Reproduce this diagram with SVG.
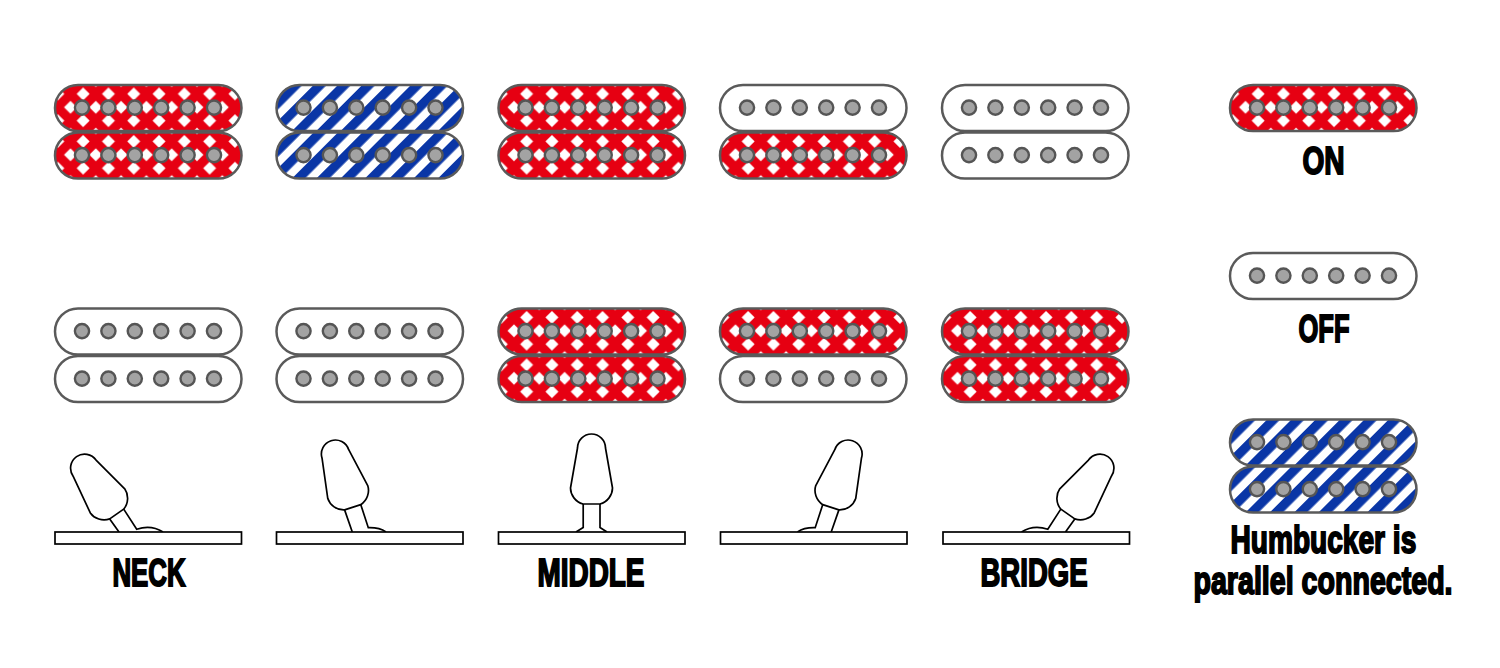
<svg xmlns="http://www.w3.org/2000/svg" width="1500" height="668" viewBox="0 0 1500 668">
<style>
.shell{stroke:#5a5a5a;stroke-width:2.5}
.pole{fill:#a3a3a3;stroke:#555;stroke-width:2.4}
.ln{fill:none;stroke:#000;stroke-width:1.7}
.kn{fill:#fff;stroke:#000;stroke-width:1.7;stroke-linejoin:round}
.bar{fill:#fff;stroke:#000;stroke-width:1.7}
.lb{font-family:"Liberation Sans",Arial,sans-serif;font-weight:700;font-size:38.5px;fill:#000;stroke:#000;stroke-width:1.9}
</style>
<defs>
<pattern id="pr" patternUnits="userSpaceOnUse" x="15.5" y="22.3" width="25.3" height="26.8">
<rect width="25.3" height="26.8" fill="#e60012"/>
<path fill="#fff" d="M12.65 6.9l6.5 6.5-6.5 6.5-6.5-6.5zM0-6.5l6.5 6.5-6.5 6.5-6.5-6.5zM25.3-6.5l6.5 6.5-6.5 6.5-6.5-6.5zM0 20.3l6.5 6.5-6.5 6.5-6.5-6.5zM25.3 20.3l6.5 6.5-6.5 6.5-6.5-6.5z"/>
</pattern>
<pattern id="pb" patternUnits="userSpaceOnUse" x="9.05" width="17.2" height="17.2" patternTransform="rotate(45)">
<rect width="17.2" height="17.2" fill="#fff"/>
<rect width="9.2" height="17.2" fill="#0a36a6"/>
</pattern>
<g id="poles">
<circle class="pole" cx="27" cy="22.6" r="7.1"/><circle class="pole" cx="53.4" cy="22.6" r="7.1"/><circle class="pole" cx="79.8" cy="22.6" r="7.1"/><circle class="pole" cx="106.2" cy="22.6" r="7.1"/><circle class="pole" cx="132.6" cy="22.6" r="7.1"/><circle class="pole" cx="159" cy="22.6" r="7.1"/>
</g>
<g id="red"><rect class="shell" fill="url(#pr)" width="186.5" height="46" rx="23"/><use href="#poles"/></g>
<g id="blue"><rect class="shell" fill="url(#pb)" width="186.5" height="46" rx="23"/><use href="#poles"/></g>
<g id="off"><rect class="shell" fill="#fff" width="186.5" height="46" rx="23"/><use href="#poles"/></g>
<path id="knob" class="kn" d="M-8.5 0H8.5C16-2 21-9 21-16L14-56A14 14 0 0 0-14-56L-21-16C-21-9-16-2-8.5 0Z"/>
<g id="tog-far">
<path class="ln" d="M109.7 518.9L119 532M123.7 509.1L136.7 529.3C145 526.5 155 527 163 532"/>
<use href="#knob" transform="translate(116.7 514) rotate(-35)"/>
<rect class="bar" x="55" y="532" width="186.5" height="12"/>
</g>
<g id="tog-near">
<path class="ln" d="M344.6 509.9L352.3 532M360.8 504.7L368.3 527.7C375 527.5 381 528.5 386 532"/>
<use href="#knob" transform="translate(352.7 507.3) rotate(-18)"/>
<rect class="bar" x="276.5" y="532" width="186.5" height="12"/>
</g>
</defs>
<g id="col-neck-top"><use href="#red" x="55" y="85"/><use href="#red" x="55" y="132.5"/></g>
<g id="col-2-top"><use href="#blue" x="276.5" y="85"/><use href="#blue" x="276.5" y="132.5"/></g>
<g id="col-middle-top"><use href="#red" x="498.5" y="85"/><use href="#red" x="498.5" y="132.5"/></g>
<g id="col-4-top"><use href="#off" x="720" y="85"/><use href="#red" x="720" y="132.5"/></g>
<g id="col-bridge-top"><use href="#off" x="942" y="85"/><use href="#off" x="942" y="132.5"/></g>
<g id="col-neck-low"><use href="#off" x="55" y="308.5"/><use href="#off" x="55" y="356"/></g>
<g id="col-2-low"><use href="#off" x="276.5" y="308.5"/><use href="#off" x="276.5" y="356"/></g>
<g id="col-middle-low"><use href="#red" x="498.5" y="308.5"/><use href="#red" x="498.5" y="356"/></g>
<g id="col-4-low"><use href="#red" x="720" y="308.5"/><use href="#off" x="720" y="356"/></g>
<g id="col-bridge-low"><use href="#red" x="942" y="308.5"/><use href="#red" x="942" y="356"/></g>
<g id="toggle-neck"><use href="#tog-far"/></g>
<g id="toggle-2"><use href="#tog-near"/></g>
<g id="toggle-middle">
<path class="ln" d="M583.2 504V527.5L576 532M600 504V527.5L607 532"/>
<use href="#knob" transform="translate(591.5 504)"/>
<rect class="bar" x="498.5" y="532" width="186.5" height="12"/>
</g>
<g id="toggle-4"><use href="#tog-near" transform="translate(1183.5 0) scale(-1 1)"/></g>
<g id="toggle-bridge"><use href="#tog-far" transform="translate(1184.5 0) scale(-1 1)"/></g>
<g id="label-neck"><text class="lb" transform="translate(112.5 585.5) scale(.67 1)">NECK</text></g>
<g id="label-middle"><text class="lb" transform="translate(537.5 585.5) scale(.725 1)">MIDDLE</text></g>
<g id="label-bridge"><text class="lb" transform="translate(980.5 585.5) scale(.715 1)">BRIDGE</text></g>
<g id="legend-on"><use href="#red" x="1230" y="85"/><text class="lb" transform="translate(1302.5 173.5) scale(.73 1)">ON</text></g>
<g id="legend-off"><use href="#off" x="1230" y="253"/><text class="lb" transform="translate(1298.5 341.5) scale(.663 1)">OFF</text></g>
<g id="legend-parallel"><use href="#blue" x="1230" y="419.5"/><use href="#blue" x="1230" y="466.5"/>
<text class="lb" transform="translate(1230.5 552.5) scale(.73 1)">Humbucker is</text>
<text class="lb" transform="translate(1193.5 593.5) scale(.743 1)">parallel connected.</text></g>
</svg>
